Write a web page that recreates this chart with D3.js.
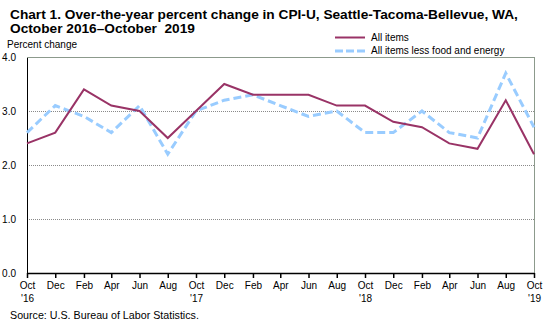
<!DOCTYPE html>
<html>
<head>
<meta charset="utf-8">
<script src="https://cdn.jsdelivr.net/npm/d3@7"></script>
<style>
  body { margin: 0; background: #fff; }
  svg { font-family: Arial, "Liberation Sans", sans-serif; }
</style>
</head>
<body>
<div class="chart"></div>
<script>
'use strict';

// Data (bi-monthly, Oct 2016 - Oct 2019)
const months = ["2016-10", "2016-12", "2017-02", "2017-04", "2017-06", "2017-08",
  "2017-10", "2017-12", "2018-02", "2018-04", "2018-06", "2018-08",
  "2018-10", "2018-12", "2019-02", "2019-04", "2019-06", "2019-08", "2019-10"];
const allItems = [2.4, 2.6, 3.4, 3.1, 3.0, 2.5, 3.0, 3.5, 3.3, 3.3, 3.3, 3.1,
  3.1, 2.8, 2.7, 2.4, 2.3, 3.2, 2.2];
const coreItems = [2.6, 3.1, 2.9, 2.6, 3.1, 2.2, 3.0, 3.2, 3.3, 3.1, 2.9, 3.0,
  2.6, 2.6, 3.0, 2.6, 2.5, 3.7, 2.7];
const monthLabels = ["Oct", "Dec", "Feb", "Apr", "Jun", "Aug"];
const yTicks = [0, 1, 2, 3, 4];

const W = 551, H = 326;
const margin = {top: 57, left: 27, right: 17, bottom: 53};
const w = W - margin.left - margin.right;
const h = H - margin.top - margin.bottom;

const parse = d3.timeParse("%Y-%m");
const dates = months.map(parse);

const svg = d3.select(".chart").append("svg")
  .attr("width", W)
  .attr("height", H);

// title
svg.append("text")
  .attr("x", 10).attr("y", 19)
  .style("font-size", "13.7px").style("font-weight", "bold")
  .text("Chart 1. Over-the-year percent change in CPI-U, Seattle-Tacoma-Bellevue, WA,");
svg.append("text")
  .attr("x", 10).attr("y", 33)
  .style("font-size", "13.7px").style("font-weight", "bold")
  .style("white-space", "pre")
  .text("October 2016\u2013October  2019");

svg.append("text")
  .attr("x", 7).attr("y", 48)
  .style("font-size", "10px")
  .text("Percent change");

const g = svg.append("g")
  .attr("transform", `translate(${margin.left},${margin.top})`);

const xScale = d3.scaleTime().domain(d3.extent(dates)).range([0, w]);
const yScale = d3.scaleLinear().domain([0, 4]).range([h, 0]);

// gridlines
g.selectAll(".grid")
  .data(yTicks.filter(d => d > 0))
  .enter().append("line")
  .attr("x1", 0).attr("x2", w)
  .attr("y1", d => yScale(d)).attr("y2", d => yScale(d))
  .attr("stroke", d => d === 4 ? "#8c9a8c" : "#8a8a8a")
  .attr("stroke-width", 1)
  .attr("stroke-dasharray", d => d === 4 ? null : "1,1")
  .attr("shape-rendering", "crispEdges");

// right border
g.append("line")
  .attr("x1", w).attr("x2", w)
  .attr("y1", 0).attr("y2", h)
  .attr("stroke", "#8c9a8c")
  .attr("shape-rendering", "crispEdges");

// y axis
const yAxis = d3.axisLeft(yScale).tickValues(yTicks).tickSize(0).tickPadding(11)
  .tickFormat(d3.format(".1f"));
g.append("g").call(yAxis)
  .call(a => a.select(".domain").attr("stroke", "#000").attr("shape-rendering", "crispEdges"))
  .call(a => a.selectAll("text").style("font-size", "10px").attr("fill", "#000")
    .attr("font-family", "Arial, 'Liberation Sans', sans-serif"));

// x axis
const xAxis = d3.axisBottom(xScale).tickValues(dates).tickSizeOuter(0).tickSizeInner(5)
  .tickFormat(d => monthLabels[((d.getMonth() - 9) / 2 + 6) % 6]);
const xg = g.append("g")
  .attr("transform", `translate(0,${h})`)
  .call(xAxis);
xg.select(".domain").attr("stroke", "#000").attr("stroke-width", 1.5);
xg.selectAll("line").attr("stroke", "#000").attr("stroke-width", 1.5);
xg.selectAll("text")
  .attr("y", 9)
  .style("font-size", "10px").attr("fill", "#000")
  .attr("font-family", "Arial, 'Liberation Sans', sans-serif");
xg.selectAll(".tick")
  .filter(d => d.getMonth() === 9)
  .append("text")
  .attr("y", 22).attr("dy", "0.71em")
  .attr("fill", "#000")
  .style("font-size", "10px")
  .attr("font-family", "Arial, 'Liberation Sans', sans-serif")
  .text(d => "'" + String(d.getFullYear()).slice(2));

// lines
const line = d3.line()
  .x((d, i) => xScale(dates[i]))
  .y(d => yScale(d));

g.append("path")
  .datum(coreItems)
  .attr("fill", "none")
  .attr("stroke", "#99ccff")
  .attr("stroke-width", 3)
  .attr("stroke-dasharray", "8,4")
  .attr("d", line);

g.append("path")
  .datum(allItems)
  .attr("fill", "none")
  .attr("stroke", "#993366")
  .attr("stroke-width", 2)
  .attr("d", line);

// legend
const legend = [
  {label: "All items", color: "#993366", width: 2, dash: null, y: 37.5},
  {label: "All items less food and energy", color: "#99ccff", width: 3, dash: "8,3", y: 51}
];
const lg = svg.append("g");
lg.selectAll("line")
  .data(legend).enter().append("line")
  .attr("x1", 335).attr("x2", 365)
  .attr("y1", d => d.y).attr("y2", d => d.y)
  .attr("stroke", d => d.color)
  .attr("stroke-width", d => d.width)
  .attr("stroke-dasharray", d => d.dash);
lg.selectAll("text")
  .data(legend).enter().append("text")
  .attr("x", 371).attr("y", d => d.y + 3.3)
  .style("font-size", "10px")
  .text(d => d.label);

// source
svg.append("text")
  .attr("x", 10).attr("y", 319)
  .style("font-size", "10.7px")
  .text("Source: U.S. Bureau of Labor Statistics.");
</script>
</body>
</html>
